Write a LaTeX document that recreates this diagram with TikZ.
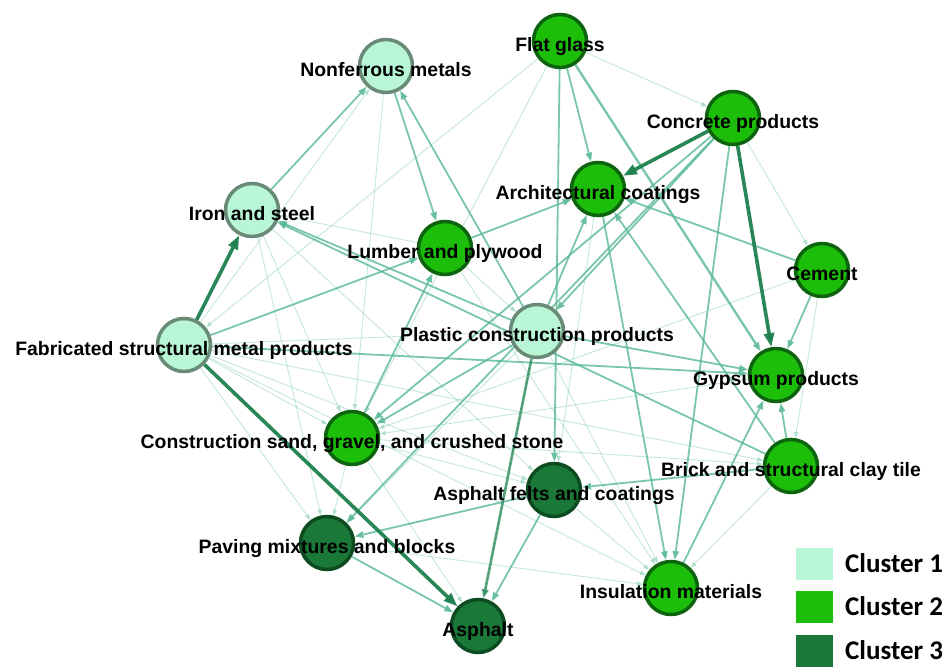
\documentclass[tikz,border=0pt]{standalone}
\usepackage{fontspec}
\setmainfont{Liberation Sans}
\newfontfamily\legfont{Carlito}
\usetikzlibrary{arrows.meta,positioning,backgrounds}
\definecolor{clA}{RGB}{184,246,213}
\definecolor{clAline}{RGB}{104,138,118}
\definecolor{clB}{RGB}{28,190,10}
\definecolor{clBline}{RGB}{12,100,14}
\definecolor{clC}{RGB}{26,120,56}
\definecolor{clCline}{RGB}{12,76,32}
\definecolor{edge}{RGB}{88,184,150}
\definecolor{edgedark}{RGB}{28,128,78}

\begin{document}
\begin{tikzpicture}[
      x=1pt, y=-1pt,
      nd/.style={circle, minimum size=53pt, inner sep=0pt, line width=3.5pt},
      n1/.style={nd, fill=clA, draw=clAline},
      n2/.style={nd, fill=clB, draw=clBline},
      n3/.style={nd, fill=clC, draw=clCline},
      lbl/.style={font=\fontsize{19.4}{20}\selectfont\bfseries, inner sep=0pt,
                  anchor=base, yshift=-10pt},
      e1/.style={-{Triangle[length=6pt,width=4.5pt]}, line width=0.9pt, draw=edge, opacity=0.35},
      e2/.style={-{Triangle[length=9pt,width=6.5pt]}, line width=1.8pt, draw=edge, opacity=0.8},
      e3/.style={-{Triangle[length=14pt,width=10pt]}, line width=3.6pt, draw=edgedark, opacity=0.95},
      legbox/.style={minimum width=37pt, minimum height=32pt, inner sep=0pt},
      legtxt/.style={font=\legfont\fontsize{27}{28}\selectfont\bfseries, inner sep=0pt, anchor=base west},
    ]
    \useasboundingbox (0,0) rectangle (946,667);

    % cluster 1
    \node[n1] (nonf) at (386,66) {};
    \node[n1] (iron) at (252,210) {};
    \node[n1] (fab) at (184,345) {};
    \node[n1] (plast) at (537,331) {};
    % cluster 2
    \node[n2] (glass) at (560,41) {};
    \node[n2] (concr) at (733,118) {};
    \node[n2] (coat) at (598,189) {};
    \node[n2] (lumb) at (445,248) {};
    \node[n2] (cem) at (822,270) {};
    \node[n2] (gyps) at (776,375) {};
    \node[n2] (brick) at (791,466) {};
    \node[n2] (sand) at (352,438) {};
    \node[n2] (insul) at (671,588) {};
    % cluster 3
    \node[n3] (felt) at (554,490) {};
    \node[n3] (pave) at (327,543) {};
    \node[n3] (asph) at (478,626) {};

    % labels
    \node[lbl] (nonf-l) at (nonf) {Nonferrous metals};
    \node[lbl] (iron-l) at (iron) {Iron and steel};
    \node[lbl] (fab-l) at (fab) {Fabricated structural metal products};
    \node[lbl] (plast-l) at (plast) {Plastic construction products};
    \node[lbl] (glass-l) at (glass) {Flat glass};
    \node[lbl] (concr-l) at (concr) {Concrete products};
    \node[lbl] (coat-l) at (coat) {Architectural coatings};
    \node[lbl] (lumb-l) at (lumb) {Lumber and plywood};
    \node[lbl] (cem-l) at (cem) {Cement};
    \node[lbl] (gyps-l) at (gyps) {Gypsum products};
    \node[lbl] (brick-l) at (brick) {Brick and structural clay tile};
    \node[lbl] (sand-l) at (sand) {Construction sand, gravel, and crushed stone};
    \node[lbl] (insul-l) at (insul) {Insulation materials};
    \node[lbl] (felt-l) at (felt) {Asphalt felts and coatings};
    \node[lbl] (pave-l) at (pave) {Paving mixtures and blocks};
    \node[lbl] (asph-l) at (asph) {Asphalt};

    % legend
    \node[legbox, fill=clA] (leg1) at (814.5,564) {};
    \node[legbox, fill=clB] (leg2) at (814.5,607) {};
    \node[legbox, fill=clC] (leg3) at (814.5,651) {};
    \node[legtxt] (leg1-t) at (845,572) {Cluster 1};
    \node[legtxt] (leg2-t) at (845,615) {Cluster 2};
    \node[legtxt] (leg3-t) at (845,659) {Cluster 3};

    \begin{scope}[on background layer]
      % weak flows
      \draw[e1] (fab) -- (nonf);
      \draw[e1] (nonf) -- (sand);
      \draw[e1] (glass) -- (concr);
      \draw[e1] (glass) -- (fab);
      \draw[e1] (glass) -- (sand);
      \draw[e1] (concr) -- (cem);
      \draw[e1] (cem) -- (sand);
      \draw[e1] (cem) -- (brick);
      \draw[e1] (fab) -- (pave);
      \draw[e1] (fab) -- (sand);
      \draw[e1] (fab) -- (felt);
      \draw[e1] (fab) -- (insul);
      \draw[e1] (fab) -- (brick);
      \draw[e1] (fab) -- (plast);
      \draw[e1] (iron) -- (pave);
      \draw[e1] (iron) -- (sand);
      \draw[e1] (iron) -- (felt);
      \draw[e1] (sand) -- (pave);
      \draw[e1] (sand) -- (felt);
      \draw[e1] (sand) -- (asph);
      \draw[e1] (sand) -- (brick);
      \draw[e1] (felt) -- (insul);
      \draw[e1] (plast) -- (insul);
      \draw[e1] (plast) -- (pave);
      \draw[e1] (lumb) -- (insul);
      \draw[e1] (lumb) -- (plast);
      \draw[e1] (lumb) -- (iron);
      \draw[e1] (pave) -- (insul);
      \draw[e1] (brick) -- (insul);
      \draw[e1] (gyps) -- (sand);
      \draw[e1] (coat) -- (felt);
      % medium flows
      \draw[e2] (iron) -- (nonf);
      \draw[e2] (nonf) -- (lumb);
      \draw[e2] (plast) -- (nonf);
      \draw[e2] (fab) -- (lumb);
      \draw[e2] (plast) -- (iron);
      \draw[e2] (brick) -- (iron);
      \draw[e2] (fab) -- (gyps);
      \draw[e2] (plast) -- (gyps);
      \draw[e2] (glass) -- (coat);
      \draw[e2] (glass) -- (felt);
      \draw[e2] (concr) -- (sand);
      \draw[e2] (concr) -- (pave);
      \draw[e2] (concr) -- (plast);
      \draw[e2] (concr) -- (insul);
      \draw[e2] (plast) -- (coat);
      \draw[e2] (plast) -- (sand);
      \draw[e2] (lumb) -- (coat);
      \draw[e2] (sand) -- (lumb);
      \draw[e2] (cem) -- (coat);
      \draw[e2] (cem) -- (gyps);
      \draw[e2] (brick) -- (gyps);
      \draw[e2] (brick) -- (coat);
      \draw[e2] (brick) -- (felt);
      \draw[e2] (insul) -- (gyps);
      \draw[e2] (coat) -- (insul);
      \draw[e2] (pave) -- (asph);
      \draw[e2] (felt) -- (asph);
      \draw[e2] (felt) -- (pave);
      \draw[e2, line width=2.4pt] (glass) -- (gyps);
      \draw[e2, line width=2.6pt, draw=edgedark!80!edge] (plast) -- (asph);
      % strong flows
      \draw[e3] (fab) -- (iron);
      \draw[e3] (fab) -- (asph);
      \draw[e3] (concr) -- (coat);
      \draw[e3] (concr) -- (gyps);
    \end{scope}
  \end{tikzpicture}
\end{document}
